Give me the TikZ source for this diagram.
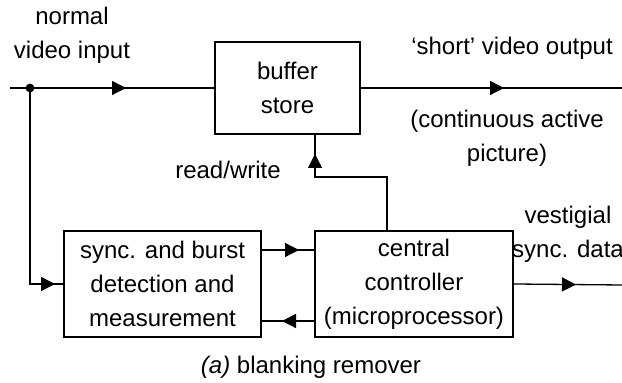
\documentclass[tikz,border=0pt]{standalone}
\usepackage{fontspec}
\setmainfont{Liberation Sans}
\usetikzlibrary{arrows.meta,decorations.markings}
\tikzset{
  lbl/.style={font=\fontsize{12}{17}\selectfont,align=center,inner sep=0pt},
  blk/.style={draw,line width=1pt,font=\fontsize{12}{17}\selectfont,align=center,inner sep=0pt},
  wire/.style={line width=0.65pt},
  arrowat/.style={postaction={decorate},decoration={markings,
    mark=at position #1 with {\arrow{Triangle[length=7pt,width=7pt]}}}}
}
\begin{document}
\begin{tikzpicture}[x=0.5pt,y=-0.5pt]
% 1 unit = 1 px of the 622x383 frame, y downwards
\useasboundingbox (0,0) rectangle (622,383);
\node[blk,minimum width=72.5pt,minimum height=46pt] (buf) at (287.5,88) {buffer\\store};
\node[blk,minimum width=98.5pt,minimum height=53pt] (sync) at (162.5,284) {sync. and burst\\detection and\\measurement};
\node[blk,minimum width=99pt,minimum height=53pt] (ctrl) at (414,284) {central\\controller\\(microprocessor)};
\coordinate (in) at (10,88);
\coordinate (split) at (30,88);
\coordinate (out) at (622,88);
\coordinate (vsync) at (622,285);
\coordinate (rwbend) at (387,177);
% connectors
\draw[wire,arrowat=58pt] (in) -- (buf.west);
\fill (split) circle (2.2pt);
\draw[wire,arrowat=110.5pt] (split) |- (sync.west);
\draw[wire,arrowat=71.5pt] (buf.east) -- (out);
\draw[wire,arrowat=74pt] ([xshift=-13.5pt]ctrl.north) -- (rwbend) -| ([xshift=13.75pt]buf.south);
\draw[wire,arrowat=18.5pt] ([yshift=17pt]sync.east) -- ([yshift=17pt]ctrl.west);
\draw[wire,arrowat=16pt] ([yshift=-18.5pt]ctrl.west) -- ([yshift=-18.5pt]sync.east);
\draw[wire,arrowat=31pt] (ctrl.east) -- (vsync);
% labels
\node[lbl] (inlbl) at (72,35) {normal\\video input};
\node[lbl] (outlbl) at (512,48) {`short' video output};
\node[lbl] (actlbl) at (507,138) {(continuous active\\picture)};
\node[lbl] (rwlbl) at (228,170) {read/write};
\node[lbl] (vslbl) at (568,234) {vestigial\\sync. data};
\node[lbl] (caption) at (311,367) {\textit{(a)} blanking remover};
\end{tikzpicture}
\end{document}
